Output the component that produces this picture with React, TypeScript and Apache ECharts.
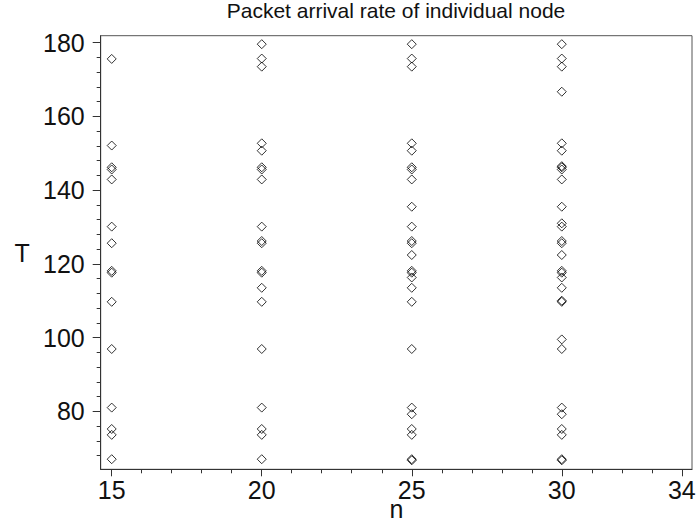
import React, { useEffect, useRef } from "react";
import * as echarts from "echarts";

// Number of nodes n (x positions of each column)
const nValues = [15, 20, 25, 30];

// T values, one list per column
const t15 = [175.6, 152.1, 146.2, 145.6, 142.9, 130.1, 125.6, 118.1, 117.6, 109.7, 96.9, 81.0, 75.2, 73.6, 67.0];
const t20 = [179.6, 175.7, 173.5, 152.7, 150.7, 146.2, 145.6, 142.9, 130.1, 126.2, 125.6, 118.1, 117.6, 113.5, 109.7, 96.9, 81.0, 75.2, 73.6, 67.0];
const t25 = [179.6, 175.7, 173.5, 152.7, 150.7, 146.2, 145.6, 142.9, 135.5, 130.1, 126.2, 125.6, 122.4, 118.1, 117.6, 116.3, 113.5, 109.7, 96.9, 81.0, 79.2, 75.2, 73.6, 67.0, 66.7];
const t30 = [179.6, 175.7, 173.5, 166.7, 152.7, 150.7, 146.5, 146.2, 145.6, 142.9, 135.5, 131.0, 130.1, 126.2, 125.6, 122.4, 118.1, 117.6, 116.3, 113.5, 110.0, 109.7, 99.5, 96.9, 81.0, 79.2, 75.2, 73.6, 67.0, 66.7];

const columns = [t15, t20, t25, t30];

// Axis ticks and labels
const xMajorTicks = [15, 20, 25, 30, 34];
const xMinorTicks = [15, 16, 17, 18, 19, 20, 21, 22, 23, 24, 25, 26, 27, 28, 29, 30, 31, 32, 33, 34];
const yMajorTicks = [80, 100, 120, 140, 160, 180];
const yMinorTicks = [68, 72, 76, 80, 84, 88, 92, 96, 100, 104, 108, 112, 116, 120, 124, 128, 132, 136, 140, 144, 148, 152, 156, 160, 164, 168, 172, 176, 180];

const X_MIN = 14.633;
const X_MAX = 34.34;
const Y_MIN = 64.26;
const Y_MAX = 181.9;

const FONT = "'Liberation Sans', Arial, Helvetica, sans-serif";
const AXIS_COLOR = "#333";

export default function App() {
  const ref = useRef<HTMLDivElement>(null);

  useEffect(() => {
    document.body.style.margin = "0";
    if (!ref.current) return;
    const chart = echarts.init(ref.current, null, { renderer: "svg" });

    const data: number[][] = [];
    columns.forEach((col, i) => {
      col.forEach((t) => data.push([nValues[i], t]));
    });

    const baseX = {
      type: "value" as const,
      min: X_MIN,
      max: X_MAX,
      position: "bottom" as const,
      splitLine: { show: false },
    };
    const baseY = {
      type: "value" as const,
      min: Y_MIN,
      max: Y_MAX,
      position: "left" as const,
      splitLine: { show: false },
    };

    chart.setOption({
      animation: false,
      backgroundColor: "#fff",
      title: {
        text: "Packet arrival rate of individual node",
        left: 396,
        top: 0,
        padding: 0,
        textAlign: "center",
        textStyle: { fontFamily: FONT, fontSize: 21, fontWeight: "normal", color: "#111" },
      },
      grid: {
        left: 100.7,
        right: 6,
        top: 35.7,
        bottom: 61.7,
        outerBoundsMode: "none",
        containLabel: false,
        show: true,
        borderColor: "#555",
        borderWidth: 1,
        backgroundColor: "transparent",
      },
      xAxis: [
        {
          ...baseX,
          axisLine: { show: true, onZero: false, lineStyle: { color: AXIS_COLOR, width: 1 } },
          axisTick: { show: true, length: 4, customValues: xMinorTicks, lineStyle: { color: AXIS_COLOR } },
          axisLabel: { show: false },
        },
        {
          ...baseX,
          name: "n",
          nameLocation: "middle",
          nameGap: 27,
          nameMoveOverlap: false,
          nameTextStyle: { fontFamily: FONT, fontSize: 25, color: "#111" },
          axisLine: { show: false, onZero: false },
          axisTick: { show: true, length: 7, customValues: xMajorTicks, lineStyle: { color: AXIS_COLOR } },
          axisLabel: {
            show: true,
            customValues: xMajorTicks,
            margin: 8,
            fontFamily: FONT,
            fontSize: 25,
            color: "#111",
          },
        },
      ],
      yAxis: [
        {
          ...baseY,
          axisLine: { show: true, onZero: false, lineStyle: { color: AXIS_COLOR, width: 1 } },
          axisTick: { show: true, length: 4, customValues: yMinorTicks, lineStyle: { color: AXIS_COLOR } },
          axisLabel: { show: false },
        },
        {
          ...baseY,
          name: "T",
          nameLocation: "middle",
          nameRotate: 0,
          nameGap: 71,
          nameMoveOverlap: false,
          nameTextStyle: { fontFamily: FONT, fontSize: 25, color: "#111" },
          axisLine: { show: false, onZero: false },
          axisTick: { show: true, length: 8, customValues: yMajorTicks, lineStyle: { color: AXIS_COLOR } },
          axisLabel: {
            show: true,
            customValues: yMajorTicks,
            margin: 16,
            fontFamily: FONT,
            fontSize: 25,
            color: "#111",
          },
        },
      ],
      series: [
        {
          type: "scatter",
          xAxisIndex: 0,
          yAxisIndex: 0,
          data,
          symbol: "diamond",
          symbolSize: 9,
          itemStyle: { color: "rgba(255,255,255,0)", borderColor: "#000", borderWidth: 1 },
          emphasis: { disabled: true },
        },
      ],
    });

    return () => chart.dispose();
  }, []);

  return <div ref={ref} style={{ width: 698, height: 531 }} />;
}
